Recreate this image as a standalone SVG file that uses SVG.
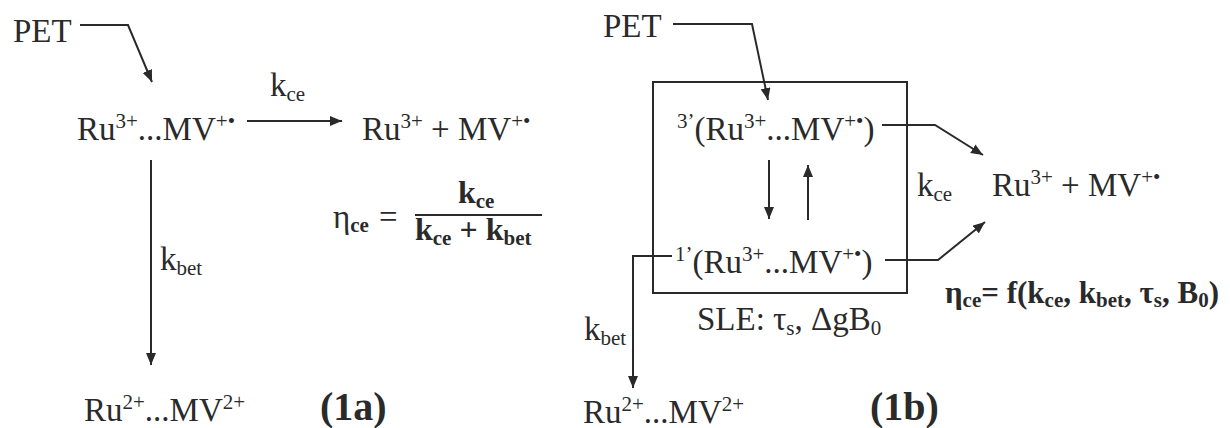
<svg xmlns="http://www.w3.org/2000/svg" width="1230" height="428" viewBox="0 0 1230 428">
<defs>
<style>
.t{font-family:"Liberation Serif","Times New Roman",serif;font-size:33px;fill:#2a2a2a}
.s{font-size:21px}
.b{font-family:"Liberation Serif","Times New Roman",serif;font-weight:bold;fill:#2a2a2a}
.ln{fill:none;stroke:#2a2a2a;stroke-width:2}
</style>
<marker id="ah" viewBox="0 0 12 10" refX="12" refY="5" markerWidth="12" markerHeight="10" markerUnits="userSpaceOnUse" orient="auto">
<path d="M0,0 L12,5 L0,10 z" fill="#2a2a2a"/>
</marker>
</defs>
<rect width="1230" height="428" fill="#ffffff"/>

<g id="connectors">
<path class="ln" d="M80,25 H128 L152,82" marker-end="url(#ah)"/>
<path class="ln" d="M247,121 H342" marker-end="url(#ah)"/>
<path class="ln" d="M151,160 V365" marker-end="url(#ah)"/>
<path class="ln" d="M673,24 H752 L768,100" marker-end="url(#ah)"/>
<path class="ln" d="M882,125 H935 L983,155" marker-end="url(#ah)"/>
<path class="ln" d="M769,160 V219" marker-end="url(#ah)"/>
<path class="ln" d="M808,220 V165" marker-end="url(#ah)"/>
<path class="ln" d="M672,256 H633 V388" marker-end="url(#ah)"/>
<path class="ln" d="M885,260 H938 L985,222" marker-end="url(#ah)"/>
</g>

<g id="label-kce-a"><text class="t" x="270" y="96">k<tspan class="s" dy="5">ce</tspan></text></g>
<g id="label-kbet-a"><text class="t" x="160" y="270">k<tspan class="s" dy="5">bet</tspan></text></g>
<g id="label-kce-b"><text class="t" x="917" y="196">k<tspan class="s" dy="5">ce</tspan></text></g>
<g id="label-kbet-b"><text class="t" x="584" y="340">k<tspan class="s" dy="5">bet</tspan></text></g>

<g id="pet-a"><text class="t" x="13" y="42">PET</text></g>
<g id="pair-a"><text class="t" x="77" y="140">Ru<tspan class="s" dy="-12">3+</tspan><tspan dy="12">...MV</tspan><tspan class="s" dy="-12">+•</tspan></text></g>
<g id="free-a"><text class="t" x="362" y="140">Ru<tspan class="s" dy="-12">3+</tspan><tspan dy="12"> + MV</tspan><tspan class="s" dy="-12">+•</tspan></text></g>
<g id="bet-a"><text class="t" x="84" y="421">Ru<tspan class="s" dy="-12">2+</tspan><tspan dy="12">...MV</tspan><tspan class="s" dy="-12">2+</tspan></text></g>
<g id="eta-a">
<text class="t" x="333" y="228">η<tspan class="b" font-size="21" dy="4">ce</tspan><tspan dx="10" dy="-4">=</tspan></text>
<line class="ln" x1="415" y1="215" x2="542" y2="215"/>
<text class="b" font-size="32" x="458" y="203">k<tspan font-size="21" dy="5">ce</tspan></text>
<text class="b" font-size="32" x="415" y="240">k<tspan font-size="21" dy="5">ce</tspan><tspan dy="-5"> + k</tspan><tspan font-size="21" dy="5">bet</tspan></text>
</g>
<g id="tag-a"><text class="b" font-size="40" x="320" y="420">(1a)</text></g>

<g id="pet-b"><text class="t" x="603" y="37">PET</text></g>
<g id="sle-box">
<rect class="ln" x="653" y="82" width="254" height="211"/>
<text class="t" x="697" y="330">SLE: τ<tspan class="s" dy="5">s</tspan><tspan dy="-5">, ΔgB</tspan><tspan class="s" dy="5">0</tspan></text>
</g>
<g id="triplet"><text class="t" x="677" y="140"><tspan class="s" dy="-12">3’</tspan><tspan dy="12">(Ru</tspan><tspan class="s" dy="-12">3+</tspan><tspan dy="12">...MV</tspan><tspan class="s" dy="-12">+•</tspan><tspan dy="12">)</tspan></text></g>
<g id="singlet"><text class="t" x="675" y="273"><tspan class="s" dy="-12">1’</tspan><tspan dy="12">(Ru</tspan><tspan class="s" dy="-12">3+</tspan><tspan dy="12">...MV</tspan><tspan class="s" dy="-12">+•</tspan><tspan dy="12">)</tspan></text></g>
<g id="free-b"><text class="t" x="992" y="196">Ru<tspan class="s" dy="-12">3+</tspan><tspan dy="12"> + MV</tspan><tspan class="s" dy="-12">+•</tspan></text></g>
<g id="bet-b"><text class="t" x="583" y="423">Ru<tspan class="s" dy="-12">2+</tspan><tspan dy="12">...MV</tspan><tspan class="s" dy="-12">2+</tspan></text></g>
<g id="eta-b"><text class="b" font-size="31" x="945" y="303">η<tspan font-size="21" dy="4">ce</tspan><tspan dy="-4">= f(k</tspan><tspan font-size="21" dy="4">ce</tspan><tspan dy="-4">, k</tspan><tspan font-size="21" dy="4">bet</tspan><tspan dy="-4">, τ</tspan><tspan font-size="21" dy="4">s</tspan><tspan dy="-4">, B</tspan><tspan font-size="21" dy="4">0</tspan><tspan dy="-4">)</tspan></text></g>
<g id="tag-b"><text class="b" font-size="40" x="870" y="420">(1b)</text></g>
</svg>
